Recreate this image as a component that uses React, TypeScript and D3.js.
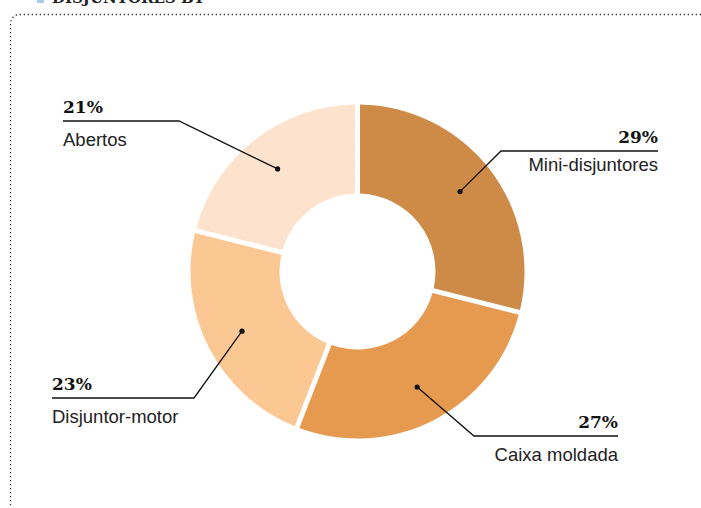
import React from "react";
import * as d3 from "d3";

const categories = ["Mini-disjuntores", "Caixa moldada", "Disjuntor-motor", "Abertos"];
const values = [29, 27, 23, 21];
const percentLabels = ["29%", "27%", "23%", "21%"];
const colors = ["#CE8B47", "#E59A50", "#FBC793", "#FDE3CE"];
const title = "DISJUNTORES BT";

// label layout (annotation placement)
const labelLayout = [
  { side: "right", x: 658, lineY: 151, elbowX: 501, nameDy: 20 },
  { side: "right", x: 618, lineY: 436, elbowX: 474, nameDy: 25 },
  { side: "left", x: 52, lineY: 398, elbowX: 194, nameDy: 24.5 },
  { side: "left", x: 63, lineY: 121, elbowX: 179, nameDy: 24.5 },
];

export default function App() {
  const W = 701;
  const H = 508;
  const cx = 357.5;
  const cy = 271.5;
  const ro = 167;
  const ri = 78;

  const pie = d3.pie<number>().value((d) => d).sort(null).padAngle(0.027);
  const arcs = pie(values);
  const arc = d3.arc<d3.PieArcDatum<number>>().innerRadius(ri).outerRadius(ro);
  const dotArc = d3.arc<d3.PieArcDatum<number>>().innerRadius(130).outerRadius(130);

  return (
    <svg
      width={W}
      height={H}
      style={{ position: "absolute", left: 0, top: 0, background: "#fff" }}
    >
      <rect x={37} y={-6} width={7} height={9} fill="#A9CBEA" />
      <text
        x={52}
        y={2.5}
        fontFamily="DejaVu Serif"
        fontWeight="bold"
        fontSize={15}
        fill="#222"
      >
        {title}
      </text>
      <path
        d={`M ${W} 14.5 L 21 14.5 Q 10.5 14.5 10.5 25 L 10.5 ${H}`}
        fill="none"
        stroke="#333"
        strokeWidth={1.3}
        strokeDasharray="1.3 2.7"
      />
      <g transform={`translate(${cx},${cy})`}>
        {arcs.map((a, i) => (
          <path key={i} d={arc(a) || ""} fill={colors[i]} />
        ))}
      </g>
      {arcs.map((a, i) => {
        const [dx, dy] = dotArc.centroid(a);
        const px = cx + dx;
        const py = cy + dy;
        const L = labelLayout[i];
        const right = L.side === "right";
        const lineStart = right ? L.elbowX : L.x;
        const lineEnd = right ? L.x : L.elbowX;
        return (
          <g key={i}>
            <polyline
              points={`${px},${py} ${L.elbowX},${L.lineY} ${right ? lineEnd : lineStart},${L.lineY}`}
              fill="none"
              stroke="#111"
              strokeWidth={1.3}
            />
            <circle cx={px} cy={py} r={2.6} fill="#111" />
            <text
              x={L.x}
              y={L.lineY - 8.5}
              textAnchor={right ? "end" : "start"}
              fontFamily="DejaVu Serif"
              fontWeight="bold"
              fontSize={17}
              fill="#111"
            >
              {percentLabels[i]}
            </text>
            <text
              x={L.x}
              y={L.lineY + L.nameDy}
              textAnchor={right ? "end" : "start"}
              fontFamily="Liberation Sans"
              fontSize={18.5}
              fill="#222"
            >
              {categories[i]}
            </text>
          </g>
        );
      })}
    </svg>
  );
}
